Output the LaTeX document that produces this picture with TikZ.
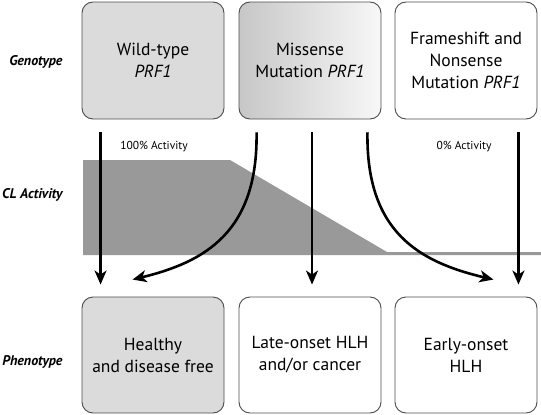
\documentclass[tikz,border=0pt]{standalone}
\usepackage{fontspec}
\setmainfont{PT Sans}
\usetikzlibrary{calc}
\usetikzlibrary{arrows.meta}

\tikzset{
  statebox/.style={draw=black!70,line width=0.9pt,rounded corners=11pt,
      minimum width=142pt,align=center,
      font=\fontsize{17.5}{22}\selectfont},
  rowlabel/.style={anchor=east,font=\fontsize{14}{16}\selectfont\bfseries\itshape},
  pathway/.style={-{Stealth[length=14pt,width=12pt,inset=4pt]},line width=2.6pt,black},
}

\begin{document}
\begin{tikzpicture}[x=1pt,y=-1pt]
\useasboundingbox (0,0) rectangle (541,415);

% activity profile
\fill[black!40] (83,160) -- (230,160) -- (387,252) -- (541,252)
      -- (541,255) -- (83,255) -- cycle;
\node[font=\fontsize{11.5}{13}\selectfont] (hiact) at (154,147) {100\% Activity};
\node[font=\fontsize{11.5}{13}\selectfont] (loact) at (464,147) {0\% Activity};

% genotype row
\node[statebox,minimum height=117pt,fill=black!14] (wt) at (153,60.5)
      {Wild-type\\\textit{PRF1}};
\node[statebox,minimum height=117pt,left color=black!22,right color=black!3] (mis) at (310,60.5)
      {Missense\\Mutation \textit{PRF1}};
\node[statebox,minimum height=117pt] (fs) at (466,60.5)
      {Frameshift and\\Nonsense\\Mutation \textit{PRF1}};

% phenotype row
\node[statebox,minimum height=116pt,fill=black!14] (healthy) at (153,355)
      {Healthy\\and disease free};
\node[statebox,minimum height=116pt] (late) at (310,355)
      {Late-onset HLH\\and/or cancer};
\node[statebox,minimum height=116pt] (early) at (466,355)
      {Early-onset\\HLH};

\node[rowlabel] (geno) at (66,62) {Genotype};
\node[rowlabel] (clact) at (66,195) {CL Activity};
\node[rowlabel] (pheno) at (66,362) {Phenotype};

\draw[pathway,shorten <=13pt,shorten >=12pt]
      ([xshift=19pt]wt.south west) -- ([xshift=19pt]healthy.north west);
\draw[pathway,shorten <=13pt,shorten >=12pt]
      ([xshift=2pt]mis.south) -- ([xshift=2pt]late.north);
\draw[pathway,shorten <=13pt,shorten >=12pt]
      ([xshift=-19pt]fs.south east) -- ([xshift=-19pt]early.north east);
\draw[pathway] ([shift={(18pt,-13pt)}]mis.south west)
      .. controls (258,232) and (205,262) ..
      ([shift={(51pt,17pt)}]healthy.north west);
\draw[pathway] ([shift={(-14pt,-13pt)}]mis.south east)
      .. controls (366,232) and (419,262) ..
      ([shift={(-44pt,17pt)}]early.north east);

\end{tikzpicture}
\end{document}
